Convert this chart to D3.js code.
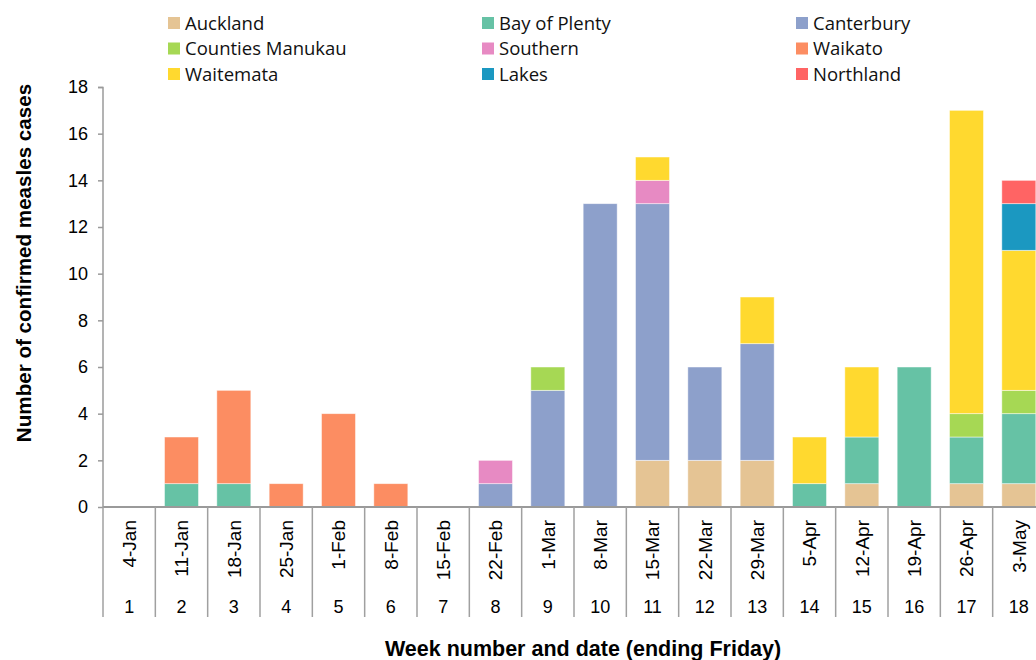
<!DOCTYPE html>
<html>
<head>
<meta charset="utf-8">
<script src="https://cdn.jsdelivr.net/npm/d3@7/dist/d3.min.js"></script>
<style>
  body { margin: 0; background: #fff; }
  svg { display: block; }
  .axis text { font-family: "Liberation Sans", Arial, sans-serif; fill: #000; }
</style>
</head>
<body>
<div class="chart"></div>
<script>
var weeks = [1, 2, 3, 4, 5, 6, 7, 8, 9, 10, 11, 12, 13, 14, 15, 16, 17, 18];
var dates = ["4-Jan", "11-Jan", "18-Jan", "25-Jan", "1-Feb", "8-Feb", "15-Feb", "22-Feb", "1-Mar",
  "8-Mar", "15-Mar", "22-Mar", "29-Mar", "5-Apr", "12-Apr", "19-Apr", "26-Apr", "3-May"];
var regions = ["Auckland", "Bay of Plenty", "Canterbury", "Counties Manukau", "Southern",
  "Waikato", "Waitemata", "Lakes", "Northland"];
var colors = ["#e5c494", "#66c2a5", "#8da0cb", "#a6d854", "#e78ac3", "#fc8d62", "#ffd92f", "#1b98c1", "#ff6464"];

// cases per week, one array per region
var auckland        = [0, 0, 0, 0, 0, 0, 0, 0, 0, 0, 2, 2, 2, 0, 1, 0, 1, 1];
var bayOfPlenty     = [0, 1, 1, 0, 0, 0, 0, 0, 0, 0, 0, 0, 0, 1, 2, 6, 2, 3];
var canterbury      = [0, 0, 0, 0, 0, 0, 0, 1, 5, 13, 11, 4, 5, 0, 0, 0, 0, 0];
var countiesManukau = [0, 0, 0, 0, 0, 0, 0, 0, 1, 0, 0, 0, 0, 0, 0, 0, 1, 1];
var southern        = [0, 0, 0, 0, 0, 0, 0, 1, 0, 0, 1, 0, 0, 0, 0, 0, 0, 0];
var waikato         = [0, 2, 4, 1, 4, 1, 0, 0, 0, 0, 0, 0, 0, 0, 0, 0, 0, 0];
var waitemata       = [0, 0, 0, 0, 0, 0, 0, 0, 0, 0, 1, 0, 2, 2, 3, 0, 13, 6];
var lakes           = [0, 0, 0, 0, 0, 0, 0, 0, 0, 0, 0, 0, 0, 0, 0, 0, 0, 2];
var northland       = [0, 0, 0, 0, 0, 0, 0, 0, 0, 0, 0, 0, 0, 0, 0, 0, 0, 1];
var yTicks = [0, 2, 4, 6, 8, 10, 12, 14, 16, 18];

var series = [auckland, bayOfPlenty, canterbury, countiesManukau, southern, waikato, waitemata, lakes, northland];
var rows = weeks.map(function(w, i) {
  var row = { week: w, date: dates[i] };
  regions.forEach(function(r, j) { row[r] = series[j][i]; });
  return row;
});

var width = 1036, height = 660;
var margins = { top: 87, left: 103, bottom: 153 };
var chartHeight = height - margins.top - margins.bottom;
var chartWidth = 942; // last band runs past the right edge, as in the source

var svg = d3.select("div.chart").append("svg")
  .attr("width", width)
  .attr("height", height);

var chart = svg.append("g")
  .attr("transform", `translate(${margins.left},${margins.top})`);

var xScale = d3.scaleBand()
  .domain(weeks)
  .range([0, chartWidth])
  .paddingInner(0.35)
  .paddingOuter(0.175);

var bandStep = chartWidth / weeks.length;

var yScale = d3.scaleLinear()
  .domain([0, 18])
  .range([chartHeight, 0]);

var stack = d3.stack().keys(regions);
var layers = stack(rows);

// bars
chart.append("g")
  .attr("class", "bars")
  .selectAll("g")
  .data(layers)
  .enter()
  .append("g")
  .attr("fill", (d, i) => colors[i])
  .selectAll("rect")
  .data(d => d.filter(p => p[1] > p[0]))
  .enter()
  .append("rect")
  .attr("x", d => xScale(d.data.week))
  .attr("y", d => yScale(d[1]))
  .attr("width", xScale.bandwidth())
  .attr("height", d => yScale(d[0]) - yScale(d[1]))
  .attr("stroke", "rgba(255,255,255,0.6)")
  .attr("stroke-width", 0.8);

// y axis
var yAxis = d3.axisLeft(yScale)
  .tickValues(yTicks)
  .tickSize(5)
  .tickPadding(10);

var yG = chart.append("g")
  .attr("class", "y axis")
  .call(yAxis);
yG.select(".domain").attr("stroke", "#9a9a9a").attr("stroke-width", 1.5).attr("d", `M-5,0.5H0V${chartHeight}`);
yG.selectAll(".tick line").attr("stroke", "#9a9a9a").attr("stroke-width", 1.5);
yG.selectAll(".tick text").style("font-size", "18px");

// x axis, two levels: date then week number
var xG = chart.append("g")
  .attr("class", "x axis")
  .attr("transform", `translate(0,${chartHeight})`);

xG.append("line")
  .attr("x1", 0).attr("x2", width)
  .attr("stroke", "#9a9a9a").attr("stroke-width", 2);

xG.selectAll(".sep")
  .data(d3.range(weeks.length + 1))
  .enter()
  .append("line")
  .attr("class", "sep")
  .attr("x1", i => i * bandStep)
  .attr("x2", i => i * bandStep)
  .attr("y1", 0)
  .attr("y2", 110)
  .attr("stroke", "#a0a0a0")
  .attr("stroke-width", 1.5);

xG.selectAll(".date")
  .data(rows)
  .enter()
  .append("text")
  .attr("class", "date")
  .attr("transform", d => `translate(${xScale(d.week) + xScale.bandwidth() / 2},13) rotate(-90)`)
  .attr("text-anchor", "end")
  .attr("dy", "0.36em")
  .style("font-size", "19px")
  .text(d => d.date);

xG.selectAll(".num")
  .data(rows)
  .enter()
  .append("text")
  .attr("class", "num")
  .attr("x", d => xScale(d.week) + xScale.bandwidth() / 2)
  .attr("y", 106)
  .attr("text-anchor", "middle")
  .style("font-size", "18px")
  .text(d => d.week);

// axis titles
svg.append("text")
  .attr("transform", "translate(31,263) rotate(-90)")
  .attr("text-anchor", "middle")
  .style("font-family", "'Liberation Sans', Arial, sans-serif")
  .style("font-weight", "bold")
  .style("font-size", "20.6px")
  .text("Number of confirmed measles cases");

svg.append("text")
  .attr("x", 583)
  .attr("y", 656)
  .attr("text-anchor", "middle")
  .style("font-family", "'Liberation Sans', Arial, sans-serif")
  .style("font-weight", "bold")
  .style("font-size", "21.5px")
  .text("Week number and date (ending Friday)");

// legend, three columns
var legend = svg.append("g").attr("class", "legend");
var legendItems = legend.selectAll("g")
  .data(regions)
  .enter()
  .append("g")
  .attr("transform", (d, i) => `translate(${168 + (i % 3) * 314},${23 + Math.floor(i / 3) * 25.5})`);

legendItems.append("rect")
  .attr("x", 0).attr("y", -6)
  .attr("width", 12).attr("height", 12)
  .attr("fill", (d, i) => colors[i]);

legendItems.append("text")
  .attr("x", 17)
  .attr("dy", "0.36em")
  .style("font-family", "'Open Sans', 'Noto Sans', sans-serif")
  .style("font-size", "18.5px")
  .style("fill", "#111")
  .text(d => d);
</script>
</body>
</html>
